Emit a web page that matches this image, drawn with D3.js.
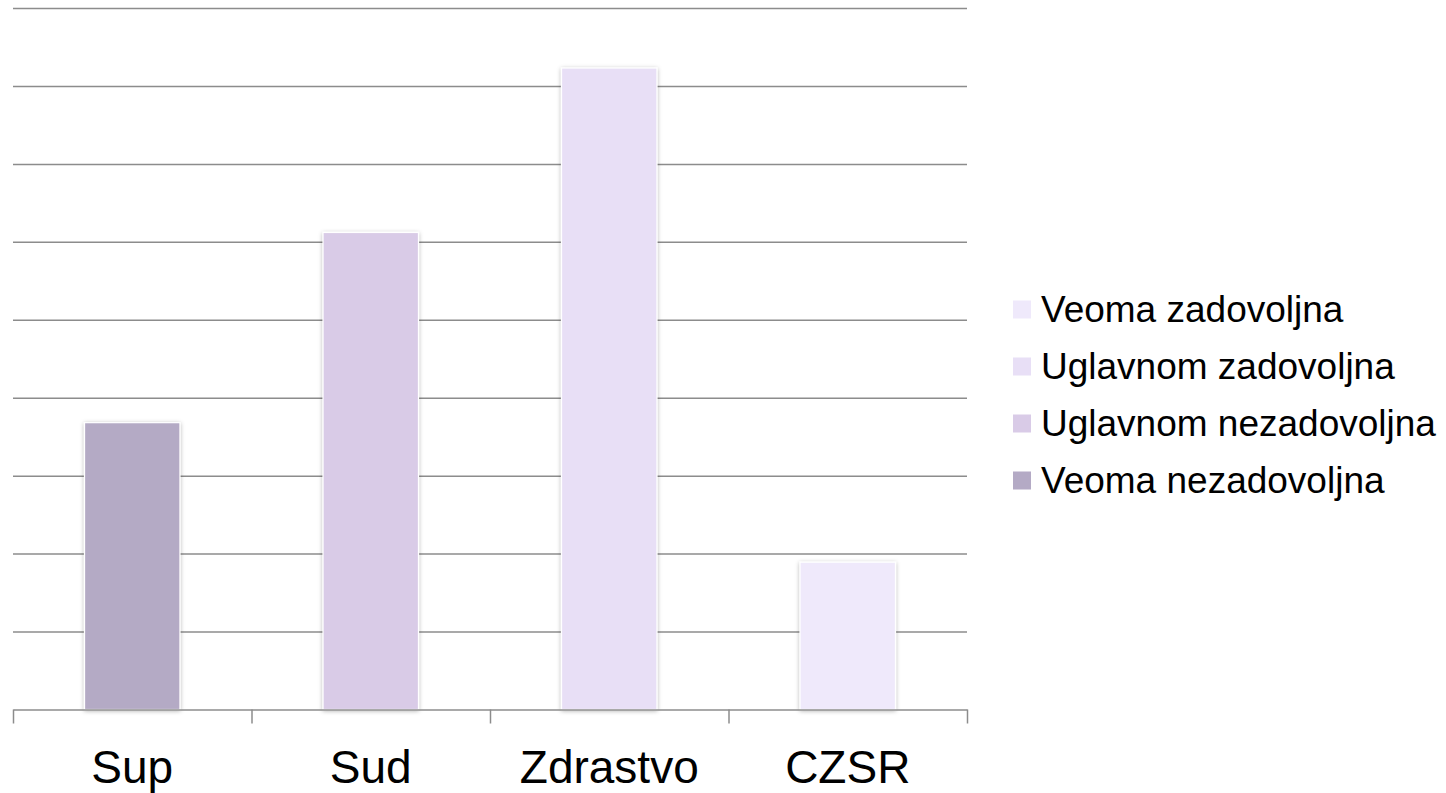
<!DOCTYPE html>
<html>
<head>
<meta charset="utf-8">
<script src="https://cdn.jsdelivr.net/npm/d3@7"></script>
<style>
  html, body { margin: 0; padding: 0; background: #ffffff; }
  svg { display: block; font-family: Arial, "Liberation Sans", sans-serif; }
</style>
</head>
<body>
<svg id="chart" width="1446" height="793"></svg>
<script>
// ---- data ----
const categories = ["Sup", "Sud", "Zdrastvo", "CZSR"];
const seriesNames = ["Veoma zadovoljna", "Uglavnom zadovoljna", "Uglavnom nezadovoljna", "Veoma nezadovoljna"];
const veomaZadovoljna     = [0, 0, 0, 1.89];
const uglavnomZadovoljna  = [0, 0, 8.23, 0];
const uglavnomNezadovoljna = [0, 6.12, 0, 0];
const veomaNezadovoljna   = [3.68, 0, 0, 0];
const yTickValues = [0, 1, 2, 3, 4, 5, 6, 7, 8, 9];
const seriesColors = ["#efe9fb", "#e8dff6", "#d9cbe7", "#b4aac5"];

// ---- layout ----
const svg = d3.select("#chart");
const plot = { left: 13, right: 967, top: 8, bottom: 709.5 };

const rows = categories.map((c, i) => ({
  category: c,
  [seriesNames[0]]: veomaZadovoljna[i],
  [seriesNames[1]]: uglavnomZadovoljna[i],
  [seriesNames[2]]: uglavnomNezadovoljna[i],
  [seriesNames[3]]: veomaNezadovoljna[i]
}));
const stacked = d3.stack().keys(seriesNames)(rows);

const x = d3.scaleBand().domain(categories).range([plot.left, plot.right])
  .paddingInner(0.6).paddingOuter(0.3);
const y = d3.scaleLinear().domain([0, 9]).range([plot.bottom, plot.top]);
const color = d3.scaleOrdinal().domain(seriesNames).range(seriesColors);

// shadow filter
const defs = svg.append("defs");
const f = defs.append("filter").attr("id", "shadow")
  .attr("x", "-20%").attr("y", "-20%").attr("width", "140%").attr("height", "140%");
f.append("feDropShadow").attr("dx", 0).attr("dy", 1).attr("stdDeviation", 2)
  .attr("flood-color", "#000").attr("flood-opacity", 0.3);

// gridlines
const grid = svg.append("g").attr("transform", `translate(${plot.left},0)`)
  .call(d3.axisLeft(y).tickValues(yTickValues.slice(1)).tickSize(-(plot.right - plot.left)).tickFormat(""));
grid.select(".domain").remove();
grid.selectAll(".tick line").attr("stroke", "#8c8c8c").attr("stroke-width", 1.5);

// bars
svg.append("g").selectAll("g").data(stacked).join("g")
  .attr("fill", d => color(d.key))
  .selectAll("rect").data(d => d.filter(s => s[1] - s[0] > 0)).join("rect")
  .attr("x", d => x(d.data.category))
  .attr("width", x.bandwidth())
  .attr("y", d => y(d[1]))
  .attr("height", d => y(d[0]) - y(d[1]))
  .attr("stroke", "#ffffff").attr("stroke-width", 1.2)
  .attr("filter", "url(#shadow)");

// x axis: baseline and tick marks between categories
const tickPos = d3.scaleLinear().domain([0, categories.length]).range([plot.left, plot.right]);
const xTicks = svg.append("g").attr("transform", `translate(0,${plot.bottom})`)
  .call(d3.axisBottom(tickPos).tickValues(d3.range(0, categories.length + 1)).tickSize(14).tickFormat("").tickSizeOuter(0));
xTicks.select(".domain").attr("stroke", "#8c8c8c").attr("stroke-width", 1.5);
xTicks.selectAll(".tick line").attr("stroke", "#8c8c8c").attr("stroke-width", 1.5);

// category labels
const xLabels = svg.append("g").attr("transform", `translate(0,${plot.bottom})`)
  .call(d3.axisBottom(x).tickSize(0).tickPadding(0));
xLabels.select(".domain").remove();
xLabels.selectAll(".tick text")
  .attr("dy", 0).attr("y", 73)
  .attr("font-size", 46).attr("fill", "#000")
  .attr("font-family", "Arial, 'Liberation Sans', sans-serif");

// legend
const legend = svg.append("g").attr("transform", "translate(1013,322)");
const item = legend.selectAll("g").data(seriesNames).join("g")
  .attr("transform", (d, i) => `translate(0,${i * 57})`);
item.append("rect").attr("x", 0).attr("y", -21.5).attr("width", 18).attr("height", 18)
  .attr("fill", d => color(d));
item.append("text").attr("x", 28).attr("y", 0)
  .attr("font-size", 37).attr("fill", "#000").text(d => d);
</script>
</body>
</html>
